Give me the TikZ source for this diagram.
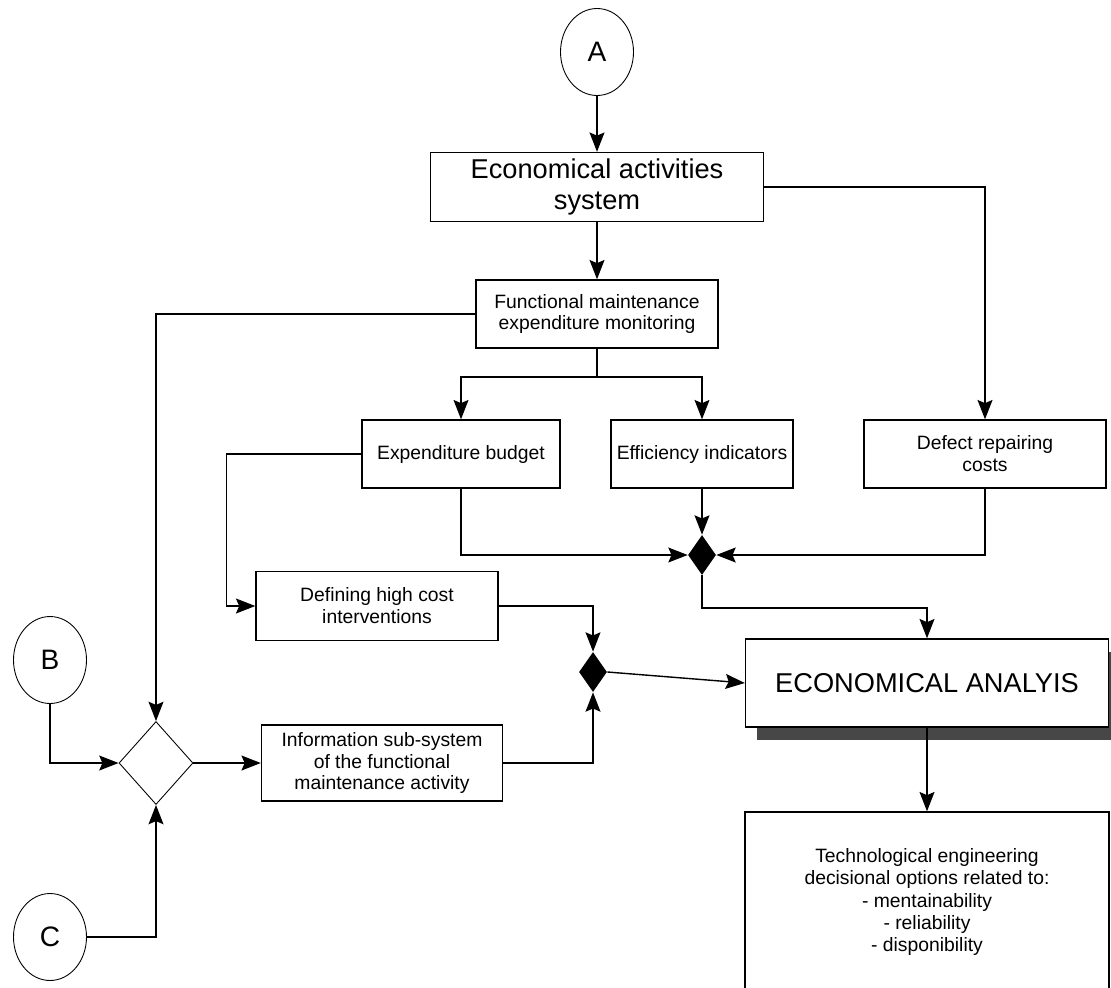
\documentclass[tikz,border=0pt]{standalone}
\usepackage{fontspec}
\setmainfont{Liberation Sans}
\usetikzlibrary{shapes.geometric,arrows.meta,shadows}

\begin{document}
\begin{tikzpicture}[x=0.02cm,y=-0.02cm,
	box/.style={draw,line width=0.8pt,inner sep=2pt,align=center,font=\fontsize{11}{12.5}\selectfont},
	bigbox/.style={box,font=\fontsize{15.5}{17.6}\selectfont},
	term/.style={draw,ellipse,line width=0.5pt,inner sep=0pt,minimum width=1.46cm,minimum height=1.74cm,font=\fontsize{16}{18}\selectfont},
	junct/.style={diamond,fill=black,inner sep=0pt,minimum width=0.56cm,minimum height=0.8cm},
	flow/.style={-{Stealth[length=11pt,width=8.5pt,inset=1.8pt]},line width=0.8pt}]
	\useasboundingbox (0,0) rectangle (1111,987);
	% terminals
	\node[term] (A) at (597,52) {A};
	\node[term] (B) at (50,660) {B};
	\node[term] (C) at (50,937) {C};
	% boxes
	\node[bigbox,minimum width=6.66cm,minimum height=1.38cm] (econ) at (597,187) {Economical activities\\system};
	\node[box,minimum width=4.84cm,minimum height=1.36cm] (fmon) at (597,314) {Functional maintenance\\expenditure monitoring};
	\node[box,minimum width=3.96cm,minimum height=1.36cm] (budget) at (461,454) {Expenditure budget};
	\node[box,minimum width=3.64cm,minimum height=1.36cm] (effic) at (702,454) {Efficiency indicators};
	\node[box,minimum width=4.84cm,minimum height=1.36cm] (defect) at (985,454) {Defect repairing\\costs};
	\node[box,minimum width=4.84cm,minimum height=1.38cm] (defhc) at (377,606) {Defining high cost\\interventions};
	\node[box,minimum width=4.82cm,minimum height=1.52cm] (info) at (382,763) {Information sub-system\\of the functional\\maintenance activity};
	\node[bigbox,minimum width=7.26cm,minimum height=1.76cm,drop shadow={shadow xshift=0.22cm,shadow yshift=-0.26cm,fill=black!72,opacity=1},fill=white] (ana) at (927,683) {ECONOMICAL ANALYIS};
	\node[box,minimum width=7.28cm,minimum height=3.6cm,font=\fontsize{11}{12.75}\selectfont] (tech) at (927,902) {Technological engineering\\decisional options related to:\\- mentainability\\- reliability\\- disponibility};
	% junctions
	\node[junct] (j1) at (702,555) {};
	\node[junct] (j2) at (593,672) {};
	\node[draw,diamond,line width=0.5pt,inner sep=0pt,minimum width=1.48cm,minimum height=1.66cm] (mix) at (156,763) {};
	\coordinate (fsplit) at (597,377);
	\coordinate (j1out) at (702,608);
	% connectors
	\draw[flow] (A) -- (econ);
	\draw[flow] (econ) -- (fmon);
	\draw[flow] (econ.east) -| (defect.north);
	\draw[flow] (fmon.west) -| (mix.north);
	\draw[line width=0.8pt] (fmon.south) -- (fsplit);
	\draw[flow] (fsplit) -| (budget.north);
	\draw[flow] (fsplit) -| (effic.north);
	\draw[flow] (budget.south) |- (j1.west);
	\draw[flow] (effic) -- (j1);
	\draw[flow] (defect.south) |- (j1.east);
	\draw[flow] (j1.south) -- (j1out) -| (ana.north);
	\draw[flow] (budget.west) -- ++(-135,0) |- (defhc.west);
	\draw[flow] (defhc.east) -| (j2.north);
	\draw[flow] (info.east) -| (j2.south);
	\draw[flow] (j2.east) -- (ana.west);
	\draw[flow] (B.south) |- (mix.west);
	\draw[flow] (C.east) -| (mix.south);
	\draw[flow] (mix.east) -- (info.west);
	\draw[flow] (ana.south) -- (tech.north);
\end{tikzpicture}
\end{document}
